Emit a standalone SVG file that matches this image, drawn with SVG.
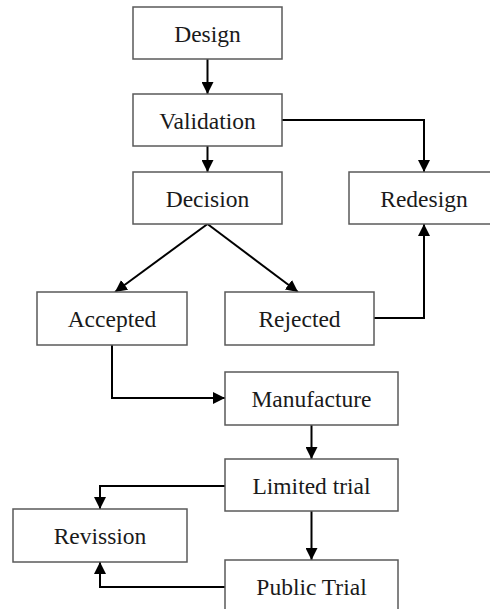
<svg xmlns="http://www.w3.org/2000/svg" width="490" height="609" viewBox="0 0 490 609">
<defs>
<marker id="ah" markerWidth="12" markerHeight="12" refX="12" refY="6" orient="auto" markerUnits="userSpaceOnUse">
<path d="M0,0 L12,6 L0,12 Z" fill="#000"/>
</marker>
</defs>
<style>
.box{fill:#fff;stroke:#5a5a5a;stroke-width:1.5}
.lbl{font-family:"Liberation Serif","Times New Roman",serif;font-size:23.5px;fill:#1a1a1a;text-anchor:middle}
.c{fill:none;stroke:#000;stroke-width:2;marker-end:url(#ah)}
</style>
<rect width="490" height="609" fill="#fff"/>
<g id="connectors">
<path class="c" d="M207.5,59 V94"/>
<path class="c" d="M207.5,146 V172"/>
<path class="c" d="M282,120 H424 V172"/>
<path class="c" d="M207.5,224 L115,292"/>
<path class="c" d="M207.5,224 L298,292"/>
<path class="c" d="M374,318 H424 V224"/>
<path class="c" d="M112,345 V398 H225"/>
<path class="c" d="M311.5,425 V459"/>
<path class="c" d="M311.5,511 V560"/>
<path class="c" d="M225,486 H100 V509"/>
<path class="c" d="M225,587 H100 V562"/>
</g>
<g id="design"><rect class="box" x="133" y="7" width="149" height="52"/><text class="lbl" x="207.5" y="42">Design</text></g>
<g id="validation"><rect class="box" x="133" y="94" width="149" height="52"/><text class="lbl" x="207.5" y="129">Validation</text></g>
<g id="decision"><rect class="box" x="133" y="172" width="149" height="52"/><text class="lbl" x="207.5" y="207">Decision</text></g>
<g id="redesign"><rect class="box" x="349" y="172" width="145" height="52"/><text class="lbl" x="424" y="207">Redesign</text></g>
<g id="accepted"><rect class="box" x="37" y="292" width="150" height="53"/><text class="lbl" x="112" y="327">Accepted</text></g>
<g id="rejected"><rect class="box" x="225" y="292" width="149" height="53"/><text class="lbl" x="299.5" y="327">Rejected</text></g>
<g id="manufacture"><rect class="box" x="225" y="372" width="173" height="53"/><text class="lbl" x="311.5" y="407">Manufacture</text></g>
<g id="limited-trial"><rect class="box" x="225" y="459" width="173" height="52"/><text class="lbl" x="311.5" y="494">Limited trial</text></g>
<g id="revission"><rect class="box" x="13" y="509" width="174" height="53"/><text class="lbl" x="100" y="544">Revission</text></g>
<g id="public-trial"><rect class="box" x="225" y="560" width="173" height="60"/><text class="lbl" x="311.5" y="595">Public Trial</text></g>
</svg>
